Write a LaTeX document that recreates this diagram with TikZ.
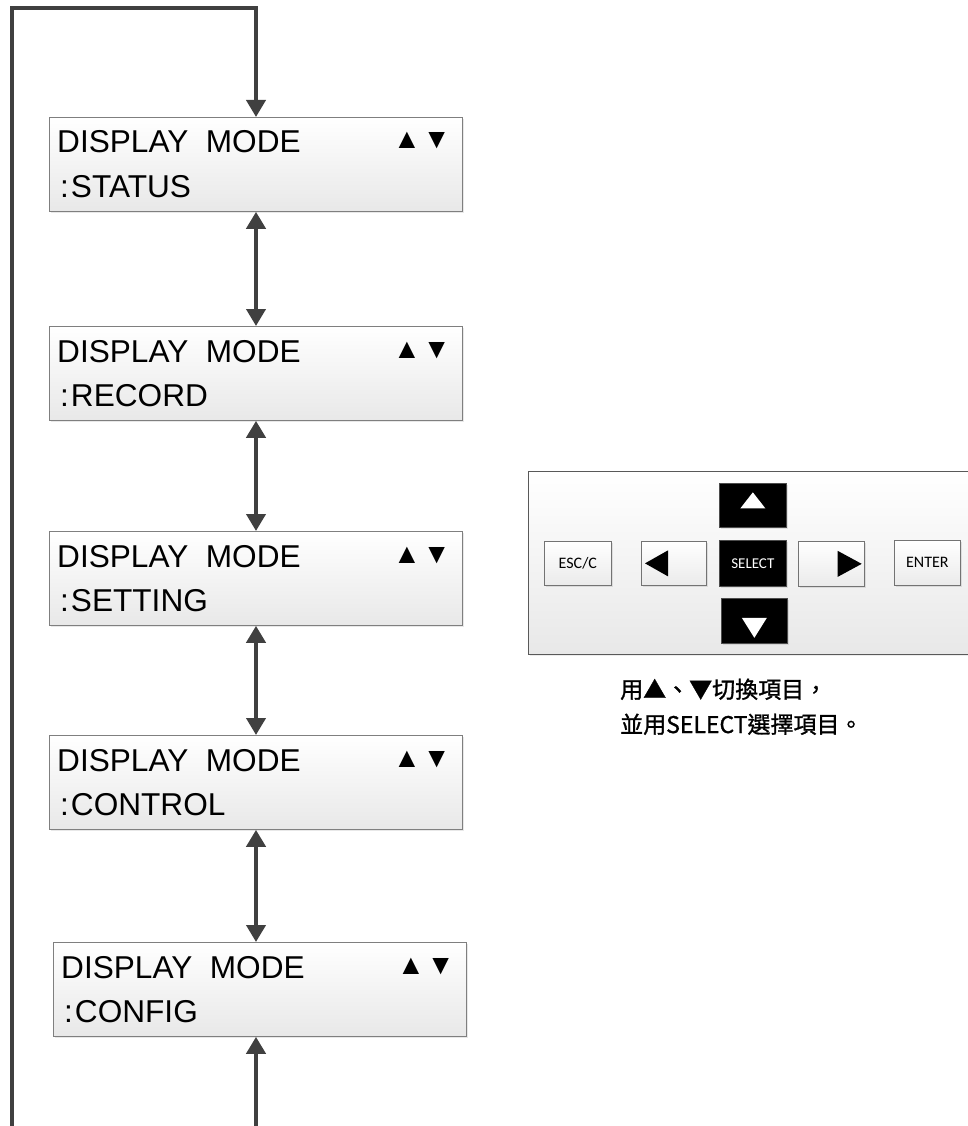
\documentclass[tikz,border=0pt]{standalone}
\usepackage{fontspec}
\setmainfont{Liberation Sans}
\newfontfamily\cjk[AutoFakeBold=1.2]{Noto Sans CJK TC}
\newfontfamily\calib{Carlito}
\usetikzlibrary{arrows.meta,shadows,calc}
\definecolor{arrgray}{HTML}{404040}
\definecolor{boxline}{HTML}{7F7F7F}
\begin{document}
\begin{tikzpicture}[x=1pt,y=-1pt,
  lcd/.style={draw=boxline, line width=0.8pt, top color=white, bottom color=black!9,
    minimum width=413pt, minimum height=94pt, inner sep=0pt, anchor=north west,
    drop shadow={opacity=0.18, shadow xshift=2pt, shadow yshift=-2pt}},
  lcdtxt/.style={anchor=base west, inner sep=0pt, font=\fontsize{31.6}{36}\selectfont},
  lcdtri/.style={anchor=base west, inner sep=0pt, font=\fontsize{28}{32}\selectfont},
  arr/.style={draw=arrgray, line width=4pt, -{Triangle[length=17pt,width=19pt]}},
  darr/.style={draw=arrgray, line width=4pt, {Triangle[length=17pt,width=19pt]}-{Triangle[length=17pt,width=19pt]}},
  panel/.style={draw=black!65, line width=0.8pt, top color=white, bottom color=black!9,
    minimum width=450pt, minimum height=183pt, inner sep=0pt, anchor=north west,
    drop shadow={opacity=0.15, shadow xshift=2pt, shadow yshift=-2pt}},
  lbtn/.style={draw=black!55, line width=0.7pt, top color=white, bottom color=black!8,
    inner sep=0pt, anchor=north west, font=\calib\fontsize{16}{18}\selectfont,
    drop shadow={opacity=0.2, shadow xshift=1.5pt, shadow yshift=-1.5pt}},
  dbtn/.style={draw=black!70, line width=0.7pt, fill=black, text=white,
    inner sep=0pt, anchor=north west, font=\calib\fontsize{15}{18}\selectfont,
    drop shadow={opacity=0.2, shadow xshift=1.5pt, shadow yshift=-1.5pt}},
  caption/.style={anchor=base west, inner sep=0pt, font=\cjk\bfseries\fontsize{23}{28}\selectfont}
]
\clip (0,0) rectangle (968,1126);

% LCD boxes
\node[lcd] (b1) at (49,117) {};
\node[lcd] (b2) at (49,326) {};
\node[lcd] (b3) at (49,531) {};
\node[lcd] (b4) at (49,735) {};
\node[lcd] (b5) at (53,942) {};

\foreach \b/\s in {b1/STATUS, b2/RECORD, b3/SETTING, b4/CONTROL, b5/CONFIG}{
  \node[lcdtxt] (\b t) at ($(\b.north west)+(8,36)$) {DISPLAY\ \ MODE};
  \node[lcdtxt] (\b s) at ($(\b.north west)+(11,80)$) {:\kern2pt\s};
  \node[lcdtri] (\b k) at ($(\b.north west)+(344,32)$) {▲\kern2pt▼};
}

% loop connector
\coordinate (lb) at (12,1130);
\coordinate (lt) at (12,8);
\coordinate (tt) at (256,8);
\coordinate (bb) at (256,1130);
\draw[arr] (lb) -- (lt) -- (tt) -- (tt |- b1.north);
\draw[darr] (b1.south -| tt) -- (b2.north -| tt);
\draw[darr] (b2.south -| tt) -- (b3.north -| tt);
\draw[darr] (b3.south -| tt) -- (b4.north -| tt);
\draw[darr] (b4.south -| tt) -- (b5.north -| tt);
\draw[arr] (bb) -- (bb |- b5.south);

% keypad panel
\node[panel] (pnl) at (528,471) {};
\node[lbtn, minimum width=67pt, minimum height=44pt] (esc) at (544,541) {ESC/C};
\node[lbtn, minimum width=65pt, minimum height=44pt] (lft) at (641,541) {};
\node[dbtn, minimum width=67pt, minimum height=46pt] (sel) at (719,540) {SELECT};
\node[dbtn, minimum width=67pt, minimum height=44pt] (up) at (719,483) {};
\node[dbtn, minimum width=66pt, minimum height=45pt] (dn) at (721,598) {};
\node[lbtn, minimum width=66pt, minimum height=45pt] (rgt) at (798,541) {};
\node[lbtn, minimum width=66pt, minimum height=45pt] (ent) at (894,540) {ENTER};

\fill[white] ($(up.center)+(-12.5,3)$) -- ($(up.center)+(12.5,3)$) -- ($(up.center)+(0,-13)$) -- cycle;
\fill[white] ($(dn.center)+(-12.5,-3)$) -- ($(dn.center)+(12.5,-3)$) -- ($(dn.center)+(0,17)$) -- cycle;
\fill[black] ($(lft.west)+(4,0)$) -- ($(lft.west)+(27,-13)$) -- ($(lft.west)+(27,13)$) -- cycle;
\fill[black] ($(rgt.east)+(-3,0)$) -- ($(rgt.east)+(-27,-13)$) -- ($(rgt.east)+(-27,13)$) -- cycle;

% caption
\node[caption] (c1) at (620,698) {用▲、▼切換項目，};
\node[caption] (c2) at (620,733) {並用SELECT選擇項目。};
\end{tikzpicture}
\end{document}
